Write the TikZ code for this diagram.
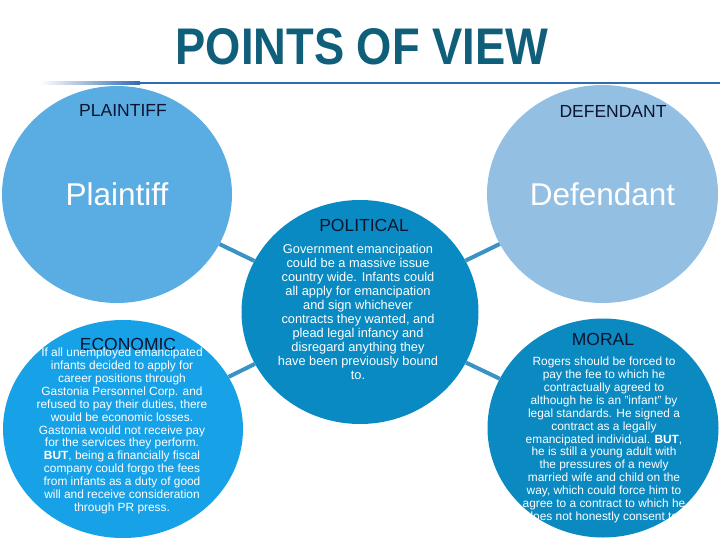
\documentclass[tikz,border=0pt]{standalone}
\usepackage{fontspec}
\setmainfont{Liberation Sans}
\newfontfamily\pvtitlefont[FakeStretch=0.88]{Liberation Sans Bold}
\usetikzlibrary{shapes.geometric}
\definecolor{pvtitle}{HTML}{0F5E7A}
\definecolor{pvrule}{HTML}{2F6CB3}
\definecolor{pvink}{HTML}{0B1530}
\definecolor{pvplain}{HTML}{5AADE2}
\definecolor{pvdef}{HTML}{93BFE3}
\definecolor{pvpol}{HTML}{0A8AC2}
\definecolor{pvecon}{HTML}{17A1E6}
\definecolor{pvmoral}{HTML}{0B89C1}
\definecolor{pvlink}{HTML}{3A93C3}
\tikzset{
  pv disc/.style={ellipse, draw=none, inner sep=0pt, text=white,
    font=\fontsize{31.5}{36}\selectfont},
  pv head/.style={font=\fontsize{17.5}{20}\selectfont, text=pvink, inner sep=0pt},
  pv body/.style={text=white, align=center, inner sep=0pt},
  pv link/.style={draw=pvlink, line width=4pt}
}
\begin{document}
\begin{tikzpicture}[x=1pt, y=-1pt]
  \useasboundingbox (0,0) rectangle (720,540);
  \node[font=\pvtitlefont\fontsize{51.5}{60}\selectfont, text=pvtitle, inner sep=0pt] (title) at (362,47) {POINTS OF VIEW};
  \shade[left color=white, right color=pvrule] (40,82) rectangle (140,84.2);
  \fill[pvrule] (140,82) rectangle (720,84.2);
  \node[pv disc, fill=pvplain, minimum width=230pt, minimum height=217pt] (plain) at (117,194.5) {Plaintiff};
  \node[pv disc, fill=pvdef, minimum width=231pt, minimum height=218pt] (def) at (602.5,194) {Defendant};
  \node[pv disc, fill=pvpol, minimum width=237pt, minimum height=224pt] (pol) at (360,312) {};
  \node[pv disc, fill=pvecon, minimum width=240pt, minimum height=218pt] (econ) at (123,429) {};
  \node[pv disc, fill=pvmoral, minimum width=231pt, minimum height=219pt] (moral) at (603,428) {};
  \foreach \n in {plain,def,econ,moral} {\draw[pv link] (pol) -- (\n);}
  \node[pv head] (plainhead) at (123,110) {PLAINTIFF};
  \node[pv head] (defhead) at (613,111) {DEFENDANT};
  \node[pv head] (polhead) at (364,225) {POLITICAL};
  \node[pv head] (econhead) at (128,344.5) {ECONOMIC};
  \node[pv head] (moralhead) at (603,339) {MORAL};
  \node[pv body, font=\fontsize{12.8}{14}\selectfont] (poltext) at (358,312) {Government emancipation\\could be a massive issue\\country wide. Infants could\\all apply for emancipation\\and sign whichever\\contracts they wanted, and\\plead legal infancy and\\disregard anything they\\have been previously bound\\to.};
  \node[pv body, font=\fontsize{11.9}{12.9}\selectfont] (econtext) at (122,431) {If all unemployed emancipated\\infants decided to apply for\\career positions through\\Gastonia Personnel Corp. and\\refused to pay their duties, there\\would be economic losses.\\Gastonia would not receive pay\\for the services they perform.\\\textbf{BUT}, being a financially fiscal\\company could forgo the fees\\from infants as a duty of good\\will and receive consideration\\through PR press.};
  \node[pv body, font=\fontsize{11.9}{12.9}\selectfont] (moraltext) at (604,440) {Rogers should be forced to\\pay the fee to which he\\contractually agreed to\\although he is an "infant" by\\legal standards. He signed a\\contract as a legally\\emancipated individual. \textbf{BUT},\\he is still a young adult with\\the pressures of a newly\\married wife and child on the\\way, which could force him to\\agree to a contract to which he\\does not honestly consent to.};
\end{tikzpicture}
\end{document}
